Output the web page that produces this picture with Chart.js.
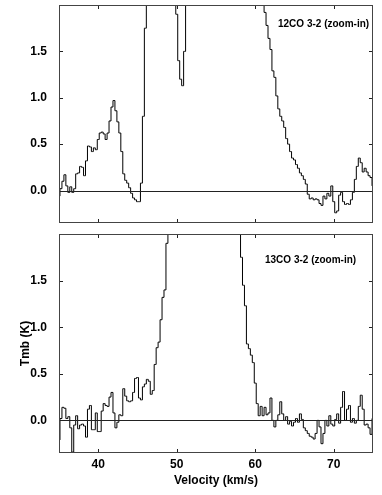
<!DOCTYPE html>
<html>
<head>
<meta charset="utf-8">
<script src="https://cdn.jsdelivr.net/npm/chart.js@4.4.1/dist/chart.umd.min.js"></script>
<style>
  body { margin: 0; background: #fff; }
  #wrap { position: relative; width: 382px; height: 495px; }
  canvas { position: absolute; left: 0; }
</style>
</head>
<body>
<div id="wrap">
  <canvas id="co12" width="382" height="230" style="top:0px"></canvas>
  <canvas id="co13" width="382" height="265" style="top:230px"></canvas>
</div>
<script>
// velocity channels, 35 to 75 km/s in 0.25 km/s steps
const velocity = [];
for (let i = 0; i <= 160; i++) velocity.push(35 + i * 0.25);

const xTicks = [40, 50, 60, 70];
const yTicks = [0.0, 0.5, 1.0, 1.5];

// 12CO 3-2 (values above 2 K are off the plot)
const tmb12co = [
  -0.06, 0.02, 0.10, 0.17, 0.05, -0.02, 0.04, -0.02, 0.02, 0.18,   // 35.00
  0.19, 0.26, 0.25, 0.16, 0.32, 0.48, 0.47, 0.42, 0.46, 0.44,      // 37.50
  0.55, 0.62, 0.63, 0.61, 0.55, 0.62, 0.75, 0.90, 0.97, 0.86,      // 40.00
  0.74, 0.62, 0.42, 0.18, 0.11, 0.08, 0.03, -0.03, -0.08, -0.10,   // 42.50
  -0.12, -0.12, 0.08, 0.80, 1.75, 2.60, 3.20, 3.80, 4.30, 4.60,    // 45.00
  4.70, 4.60, 4.40, 4.10, 3.80, 3.40, 3.10, 2.90, 2.70, 2.40,      // 47.50
  1.90, 1.40, 1.20, 1.13, 1.50, 2.00, 2.60, 3.10, 3.50, 3.80,      // 50.00
  4.10, 4.30, 4.50, 4.60, 4.60, 4.50, 4.40, 4.30, 4.10, 4.00,      // 52.50
  3.90, 3.80, 3.70, 3.60, 3.50, 3.40, 3.30, 3.20, 3.10, 3.00,      // 55.00
  2.95, 2.90, 2.85, 2.80, 2.75, 2.70, 2.60, 2.50, 2.40, 2.30,      // 57.50
  2.35, 2.30, 2.25, 2.20, 2.05, 1.92, 1.78, 1.64, 1.52, 1.29,      // 60.00
  1.22, 1.02, 0.88, 0.80, 0.75, 0.68, 0.56, 0.50, 0.42, 0.35,      // 62.50
  0.33, 0.28, 0.24, 0.19, 0.16, 0.12, 0.07, -0.04, -0.09, -0.08,   // 65.00
  -0.10, -0.09, -0.10, -0.14, -0.16, -0.06, -0.09, -0.03, -0.06, 0.05, // 67.50
  -0.12, -0.24, -0.22, -0.05, -0.02, -0.12, -0.15, -0.14, -0.15, -0.10, // 70.00
  -0.02, 0.12, 0.26, 0.35, 0.30, 0.20, 0.24, 0.20, 0.16, 0.14,     // 72.50
  0.05                                                              // 75.00
];

// 13CO 3-2
const tmb13co = [
  -0.21, 0.02, 0.14, 0.13, 0.02, 0.04, -0.08, -0.34, -0.05, 0.05,  // 35.00
  -0.09, -0.05, -0.04, -0.06, -0.18, 0.12, 0.16, -0.10, -0.10, 0.08, // 37.50
  -0.12, -0.12, 0.10, 0.18, 0.16, 0.15, 0.25, 0.30, 0.08, -0.08,   // 40.00
  -0.02, 0.06, 0.05, 0.34, 0.26, 0.21, 0.20, 0.21, 0.30, 0.45,     // 42.50
  0.46, 0.24, 0.22, 0.36, 0.39, 0.44, 0.42, 0.28, 0.32, 0.60,      // 45.00
  0.78, 0.84, 1.08, 1.32, 1.40, 1.90, 2.50, 3.00, 3.40, 3.70,      // 47.50
  3.90, 4.00, 4.10, 4.10, 4.00, 3.90, 3.80, 3.70, 3.60, 3.50,      // 50.00
  3.40, 3.35, 3.30, 3.25, 3.20, 3.15, 3.10, 3.05, 3.00, 2.95,      // 52.50
  2.90, 2.85, 2.80, 2.75, 2.70, 2.65, 2.60, 2.55, 2.50, 2.40,      // 55.00
  2.30, 2.20, 2.10, 1.75, 1.45, 1.23, 0.82, 0.77, 0.70, 0.62,      // 57.50
  0.40, 0.18, 0.05, 0.15, 0.05, 0.14, 0.06, 0.08, 0.24, 0.00,      // 60.00
  -0.07, 0.00, 0.06, 0.20, 0.07, 0.00, 0.04, -0.04, -0.01, -0.06,  // 62.50
  -0.02, 0.02, -0.02, 0.07, 0.01, -0.08, -0.11, -0.14, -0.17, -0.18, // 65.00
  -0.20, -0.14, 0.00, -0.07, -0.25, -0.14, 0.00, -0.06, 0.05, -0.04, // 67.50
  -0.06, 0.01, 0.07, -0.03, 0.14, 0.31, 0.00, 0.12, 0.16, -0.02,   // 70.00
  0.02, -0.03, 0.00, 0.15, 0.27, 0.12, -0.05, -0.04, -0.08, -0.15, // 72.50
  0.02                                                              // 75.00
];

Chart.defaults.font.family = '"Liberation Sans", Arial, sans-serif';
Chart.defaults.font.weight = 'bold';
Chart.defaults.font.size = 12;
Chart.defaults.color = '#000';

// box, zero line, inward ticks and the panel label
const framePlugin = {
  id: 'frame',
  afterDatasetsDraw(chart, args, opts) {
    const ctx = chart.ctx;
    const a = chart.chartArea;
    const x = chart.scales.x, y = chart.scales.y;
    ctx.save();
    ctx.strokeStyle = '#222';
    ctx.lineWidth = 1;
    ctx.beginPath();
    const y0 = Math.round(y.getPixelForValue(0)) + 0.5;
    ctx.moveTo(a.left, y0);
    ctx.lineTo(a.right, y0);
    xTicks.forEach(function(v) {
      const px = Math.round(x.getPixelForValue(v)) + 0.5;
      ctx.moveTo(px, a.bottom); ctx.lineTo(px, a.bottom - 4);
      ctx.moveTo(px, a.top); ctx.lineTo(px, a.top + 4);
    });
    yTicks.forEach(function(v) {
      const py = Math.round(y.getPixelForValue(v)) + 0.5;
      ctx.moveTo(a.left, py); ctx.lineTo(a.left + 4, py);
      ctx.moveTo(a.right, py); ctx.lineTo(a.right - 4, py);
    });
    ctx.stroke();
    ctx.strokeStyle = '#444';
    ctx.strokeRect(a.left + 0.5, a.top + 0.5, a.right - a.left - 1, a.bottom - a.top - 1);
    ctx.fillStyle = '#000';
    ctx.font = 'bold 10px "Liberation Sans", Arial, sans-serif';
    ctx.textBaseline = 'middle';
    ctx.fillText(opts.label, opts.labelX, opts.labelY);
    ctx.restore();
  }
};

function makePanel(id, values, label, labelX, labelY, top, bottomAxis) {
  const ctx = document.getElementById(id).getContext('2d');
  return new Chart(ctx, {
    type: 'line',
    data: {
      labels: velocity,
      datasets: [{
        data: values,
        borderColor: '#000',
        borderWidth: 1,
        pointRadius: 0,
        stepped: 'middle',
        fill: false
      }]
    },
    options: {
      responsive: false,
      animation: false,
      layout: { padding: { top: top, right: 9, left: 0, bottom: 0 } },
      plugins: {
        legend: { display: false },
        tooltip: { enabled: false },
        frame: { label: label, labelX: labelX, labelY: labelY }
      },
      scales: {
        x: {
          type: 'linear',
          min: 35,
          max: 75,
          grid: { display: false, drawTicks: false },
          border: { display: false },
          afterBuildTicks: function(scale) {
            scale.ticks = xTicks.map(function(v) { return { value: v }; });
          },
          ticks: {
            display: bottomAxis,
            padding: 4,
            maxRotation: 0,
            font: { size: 12, weight: 'bold' },
            callback: function(value) { return String(value); }
          },
          title: {
            display: bottomAxis,
            text: 'Velocity (km/s)',
            font: { size: 12, weight: 'bold' },
            padding: { top: 0, bottom: 7 }
          },
          afterFit: function(scale) { scale.height = bottomAxis ? 42 : 7; }
        },
        y: {
          min: -0.35,
          max: 2.0,
          grid: { display: false, drawTicks: true, tickLength: 12 },
          border: { display: false },
          afterBuildTicks: function(scale) {
            scale.ticks = yTicks.map(function(v) { return { value: v }; });
          },
          ticks: {
            padding: 0,
            font: { size: 12, weight: 'bold', lineHeight: 0.6 },
            callback: function(value) { return value.toFixed(1); }
          },
          title: {
            display: bottomAxis,
            text: 'Tmb (K)',
            font: { size: 12, weight: 'bold' },
            padding: { top: 18, bottom: 0 }
          },
          afterFit: function(scale) { scale.width = 59; }
        }
      }
    },
    plugins: [framePlugin]
  });
}

makePanel('co12', tmb12co, '12CO 3-2 (zoom-in)', 278, 24, 5, false);
makePanel('co13', tmb13co, '13CO 3-2 (zoom-in)', 265, 30, 4, true);
</script>
</body>
</html>
